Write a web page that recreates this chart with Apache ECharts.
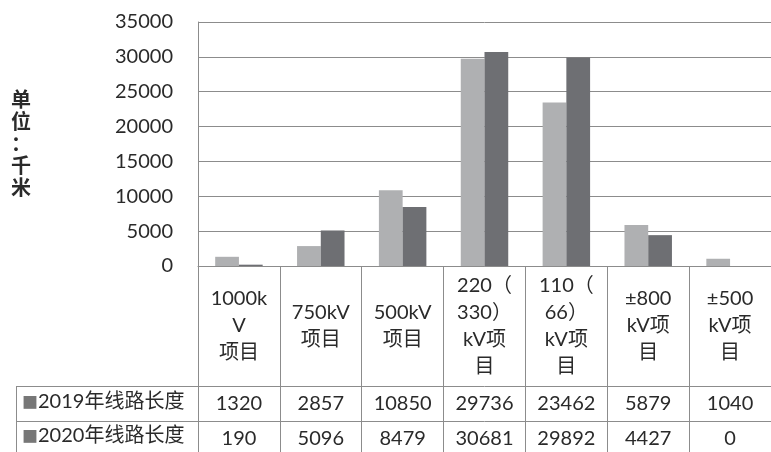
<!DOCTYPE html>
<html>
<head>
<meta charset="utf-8">
<script src="https://cdn.jsdelivr.net/npm/echarts@6/dist/echarts.min.js"></script>
<style>
html,body{margin:0;padding:0;background:#fff;}
#c{width:771px;height:452px;}
</style>
</head>
<body>
<div id="c"></div>
<script>
var categories = ['1000kV项目', '750kV项目', '500kV项目', '220（330）kV项目', '110（66）kV项目', '±800kV项目', '±500kV项目'];
var wrappedLabels = ['1000k\nV\n项目', '750kV\n项目', '500kV\n项目', '220（\n330）\nkV项\n目', '110（\n66）\nkV项\n目', '±800\nkV项\n目', '±500\nkV项\n目'];
var seriesNames = ['2019年线路长度', '2020年线路长度'];
var values2019 = [1320, 2857, 10850, 29736, 23462, 5879, 1040];
var values2020 = [190, 5096, 8479, 30681, 29892, 4427, 0];
var yTicks = [0, 5000, 10000, 15000, 20000, 25000, 30000, 35000];
var unitLabel = '单位：千米';

var FONT = "Lato, 'Noto Sans CJK SC', sans-serif";
var TXT = '#2a2a2a';
var LINE = '#8c8c8c';
var chart = echarts.init(document.getElementById('c'));

var G_LEFT = 198, G_TOP = 22, G_BOTTOM = 452 - 266, G_RIGHT = -11;

function valueAxis(vals, offset) {
  return {
    type: 'category', data: categories, position: 'bottom', offset: offset,
    axisLine: {show: true, lineStyle: {color: LINE, width: 1}},
    axisTick: {show: false},
    axisLabel: {
      interval: 0, margin: 8, fontSize: 20, fontFamily: FONT, color: TXT,
      formatter: function (v, i) { return String(vals[i]); }
    }
  };
}

chart.setOption({
  animation: false,
  backgroundColor: '#fff',
  grid: {left: G_LEFT, top: G_TOP, right: G_RIGHT, bottom: G_BOTTOM, containLabel: false},
  xAxis: [
    {
      type: 'category', data: categories, position: 'bottom',
      axisLine: {show: true, lineStyle: {color: LINE, width: 1}},
      axisTick: {show: true, length: 186, interval: 0, lineStyle: {color: LINE, width: 1}},
      axisLabel: {
        interval: 0, margin: 60, verticalAlign: 'middle', lineHeight: 27,
        fontSize: 20, fontFamily: FONT, color: TXT,
        formatter: function (v, i) { return wrappedLabels[i]; }
      }
    },
    valueAxis(values2019, 120),
    valueAxis(values2020, 155)
  ],
  yAxis: {
    type: 'value', min: yTicks[0], max: yTicks[yTicks.length - 1], interval: yTicks[1] - yTicks[0],
    axisLine: {show: true, lineStyle: {color: LINE, width: 1}},
    axisTick: {show: false},
    splitLine: {show: true, lineStyle: {color: LINE, width: 1}},
    axisLabel: {margin: 25, fontSize: 20, fontFamily: FONT, color: TXT,
      formatter: function (v) { return String(v); }}
  },
  series: [
    {name: seriesNames[0], type: 'bar', data: values2019, barGap: '0%', barCategoryGap: '42%',
     itemStyle: {color: '#afb0b2'}},
    {name: seriesNames[1], type: 'bar', data: values2020, barGap: '0%', barCategoryGap: '42%',
     itemStyle: {color: '#6e6f73'}}
  ],
  graphic: [
    {type: 'text', left: 11, top: 88, style: {
      text: unitLabel.split('').join('\n'), font: "bold 20px 'Noto Sans CJK SC'", fill: TXT, lineHeight: 22, align: 'left'}},
    {type: 'line', shape: {x1: 16, y1: 386.5, x2: 198, y2: 386.5}, style: {stroke: LINE, lineWidth: 1}},
    {type: 'line', shape: {x1: 16, y1: 421.5, x2: 198, y2: 421.5}, style: {stroke: LINE, lineWidth: 1}},
    {type: 'line', shape: {x1: 16.5, y1: 386, x2: 16.5, y2: 452}, style: {stroke: LINE, lineWidth: 1}},
    {type: 'text', left: 22, top: 392, style: {
      text: '{s|■}' + seriesNames[0],
      rich: {s: {fontSize: 16, fill: '#777', fontFamily: "'Noto Sans CJK SC'"}},
      font: '20px ' + FONT, fill: TXT}},
    {type: 'text', left: 22, top: 426, style: {
      text: '{s|■}' + seriesNames[1],
      rich: {s: {fontSize: 16, fill: '#777', fontFamily: "'Noto Sans CJK SC'"}},
      font: '20px ' + FONT, fill: TXT}}
  ]
});
</script>
</body>
</html>
